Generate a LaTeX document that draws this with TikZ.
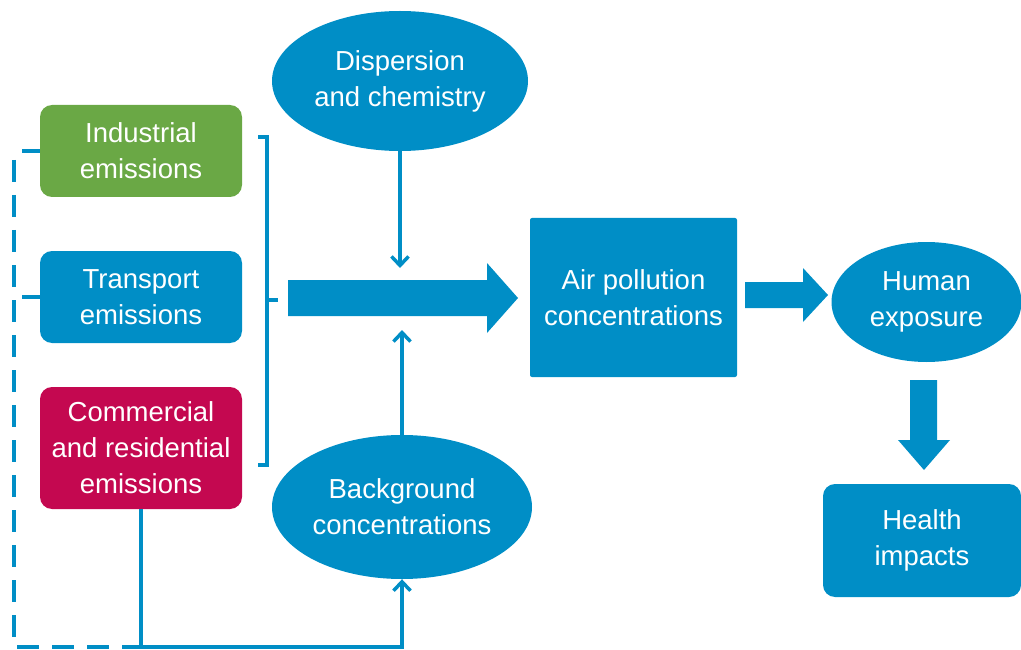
\documentclass[tikz,border=0pt]{standalone}
\usepackage{fontspec}
\setmainfont{Liberation Sans}
\usepackage{tikz}
\usetikzlibrary{arrows.meta,shapes.geometric}
\definecolor{eeablue}{RGB}{0,142,198}
\definecolor{eeagreen}{RGB}{106,168,69}
\definecolor{eeared}{RGB}{196,8,80}

\begin{document}
\begin{tikzpicture}[x=1pt,y=-1pt,
		every node/.style={text=white,align=center,inner sep=0pt,
			font=\fontsize{27.5}{36}\selectfont},
		box/.style={rectangle,rounded corners=12pt,minimum width=202pt},
		oval/.style={ellipse,fill=eeablue},
		link/.style={eeablue,line width=3.5pt},
		%tip for the thin arrows
		tip/.style={-{Straight Barb[length=9pt,width=17pt,line width=3.5pt]}}]
	\useasboundingbox (0,0) rectangle (1021,650);

	% sources
	\node[box,fill=eeagreen,minimum height=92pt] (industrial) at (141,151) {Industrial\\emissions};
	\node[box,fill=eeablue,minimum height=92pt] (transport) at (141,297) {Transport\\emissions};
	\node[box,fill=eeared,minimum height=122pt] (commercial) at (141,448) {Commercial\\and residential\\emissions};

	\node[oval,minimum width=256pt,minimum height=140pt] (dispersion) at (400,81) {Dispersion\\and chemistry};
	\node[oval,minimum width=260pt,minimum height=144pt] (background) at (402,507) {Background\\concentrations};
	\node[rectangle,rounded corners=2pt,fill=eeablue,minimum width=207pt,minimum height=159pt] (airpol) at (633.5,297.5) {Air pollution\\concentrations};
	\node[oval,minimum width=190pt,minimum height=120pt] (human) at (926.5,302) {Human\\exposure};
	\node[box,fill=eeablue,minimum width=198pt,minimum height=113pt] (health) at (922,540.5) {Health\\impacts};

	\coordinate (brtop) at (258,137);
	\coordinate (brbot) at (258,465);
	\coordinate (brmid) at (267,300);
	\coordinate (dashtop) at (14,160);
	\coordinate (dashend) at (14,647);
	\coordinate (feed) at (141,647);
	\coordinate (mixtop) at (400,268);
	\coordinate (mixbot) at (402,330);

	% bracket
	\draw[link] (brtop) -| (brmid) |- (brbot);
	\draw[link] (brmid) -- ++(11,0);

	% dashed return
	\draw[link] (industrial.west) -- ++(-18,0);
	\draw[link] (transport.west) -- ++(-18,0);
	\draw[link,dash pattern=on 22pt off 13pt] (dashtop) -- (dashend) -- (feed);
	\draw[link,tip] (commercial.south) -- (feed) -| (background.south);

	\draw[link,tip] (dispersion.south) -- (mixtop);
	\draw[link,tip] (background.north) -- (mixbot);

	% block arrows
	\fill[eeablue] (288,280) -- (487,280) -- (487,263) -- (518,298)
		-- (487,333) -- (487,316) -- (288,316) -- cycle;
	\fill[eeablue] (745,282) -- (803,282) -- (803,268) -- (828,295)
		-- (803,322) -- (803,308) -- (745,308) -- cycle;
	\fill[eeablue] (910,380) -- (937,380) -- (937,440) -- (950,440)
		-- (924,470) -- (898,440) -- (910,440) -- cycle;
\end{tikzpicture}
\end{document}
